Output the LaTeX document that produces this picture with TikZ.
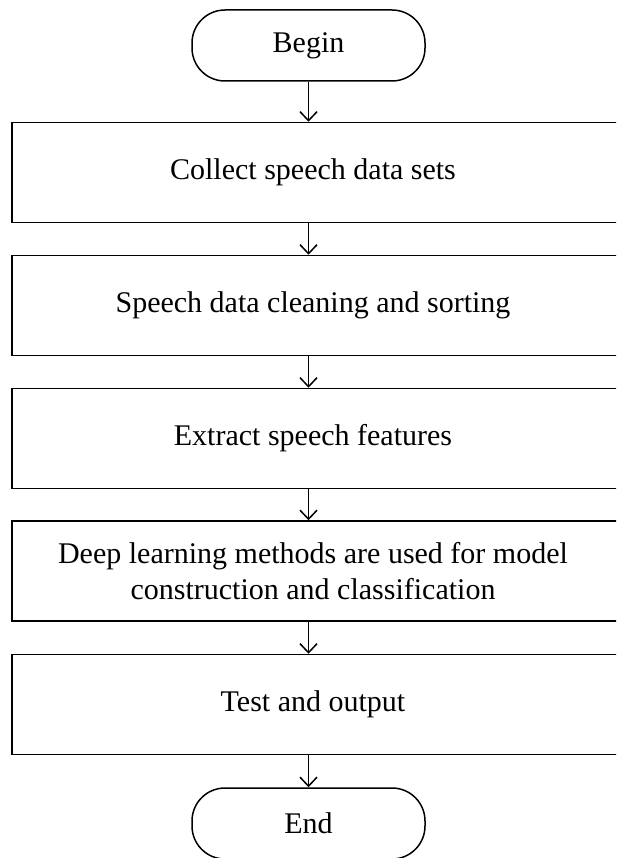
\documentclass[tikz,border=0pt]{standalone}
\usepackage{fontspec}
\setmainfont{Liberation Serif}
\usetikzlibrary{arrows.meta}
\begin{document}
\begin{tikzpicture}[x=1pt,y=-1pt,
  every node/.style={font=\fontsize{30}{36}\selectfont},
  term/.style={draw, line width=1.5pt, rounded corners=33pt,
    minimum width=233pt, minimum height=71pt, inner sep=0pt},
  proc/.style={draw, line width=1.5pt, minimum width=640pt,
    minimum height=100pt, inner sep=0pt},
  lbl/.style={xshift=-19pt, align=center, inner sep=0pt},
  arr/.style={-{Straight Barb[length=9pt,width=17pt]}, line width=1.5pt}]
\useasboundingbox (0,0) rectangle (616,858);
\begin{scope}
\clip (0,0) rectangle (616,858);
\node[term] (begin) at (308.5,45.5) {Begin};
\node[proc, label={[lbl]center:Collect speech data sets}] (b1) at (332,172.5) {};
\node[proc, label={[lbl]center:Speech data cleaning and sorting}] (b2) at (332,305.5) {};
\node[proc, label={[lbl]center:Extract speech features}] (b3) at (332,438.5) {};
\node[proc, label={[lbl]center:Deep learning methods are used for model\\construction and classification}] (b4) at (332,571) {};
\node[proc, label={[lbl]center:Test and output}] (b5) at (332,704.5) {};
\node[term] (end) at (308.5,823.5) {End};
\draw[arr] (begin.south) -- (begin.south |- b1.north);
\draw[arr] (begin.south |- b1.south) -- (begin.south |- b2.north);
\draw[arr] (begin.south |- b2.south) -- (begin.south |- b3.north);
\draw[arr] (begin.south |- b3.south) -- (begin.south |- b4.north);
\draw[arr] (begin.south |- b4.south) -- (begin.south |- b5.north);
\draw[arr] (begin.south |- b5.south) -- (end.north);
\end{scope}
\end{tikzpicture}
\end{document}
